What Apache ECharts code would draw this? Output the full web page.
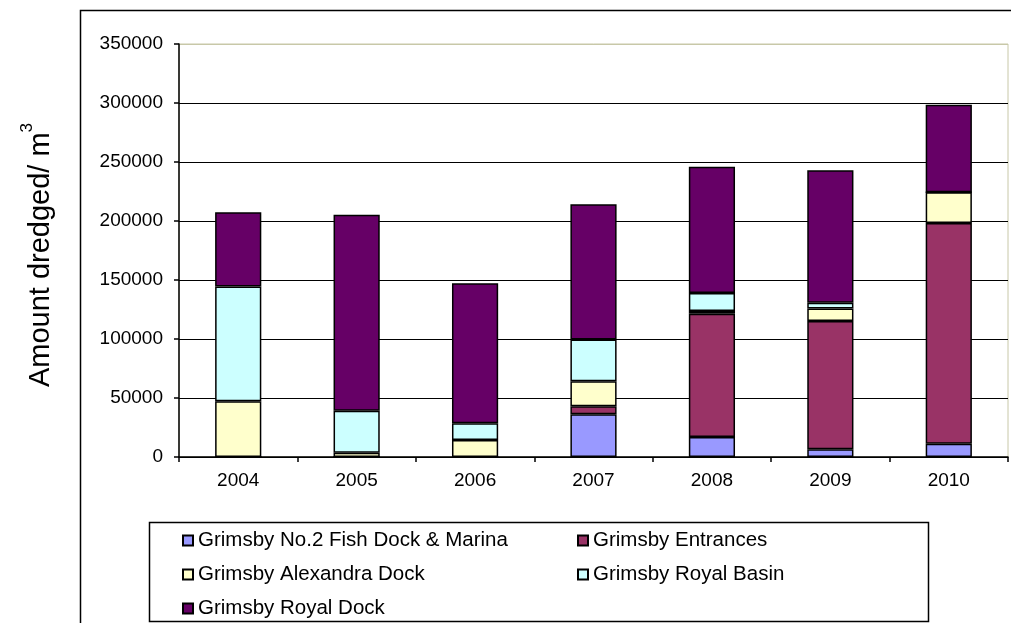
<!DOCTYPE html>
<html>
<head>
<meta charset="utf-8">
<script src="https://cdn.jsdelivr.net/npm/echarts@6/dist/echarts.min.js"></script>
<style>
  html, body { margin: 0; padding: 0; background: #fff; }
  #chart { width: 1011px; height: 623px; }
</style>
</head>
<body>
<div id="chart"></div>
<script>
// Annual dredging volumes at Grimsby, stacked by dock area (m³)
const years = ['2004', '2005', '2006', '2007', '2008', '2009', '2010'];
const fishDock   = [0, 0, 0, 36200, 17000, 6500, 11300];
const entrances  = [0, 0, 0, 6800, 104500, 108800, 187100];
const alexandra  = [47200, 3700, 14400, 21100, 2300, 10500, 26000];
const royalBasin = [97200, 35600, 14100, 35400, 15200, 5000, 0];
const royalDock  = [63000, 165900, 118700, 114700, 106900, 112200, 74100];
const yTicks = { min: 0, max: 350000, step: 50000 };

const seriesDefs = [
  { name: 'Grimsby No.2 Fish Dock & Marina', data: fishDock,   color: '#9999FF' },
  { name: 'Grimsby Entrances',               data: entrances,  color: '#993366' },
  { name: 'Grimsby Alexandra Dock',          data: alexandra,  color: '#FFFFCC' },
  { name: 'Grimsby Royal Basin',             data: royalBasin, color: '#CCFFFF' },
  { name: 'Grimsby Royal Dock',              data: royalDock,  color: '#660066' }
];

const FONT = '"Liberation Sans", Arial, sans-serif';
const chart = echarts.init(document.getElementById('chart'), null, { renderer: 'canvas' });

// gridlines are black; the top one is the light plot-area border
const splitColors = [];
for (let v = yTicks.min; v <= yTicks.max; v += yTicks.step) splitColors.push('#000000');
splitColors[splitColors.length - 1] = '#c8c8a8';

const legendText = { color: '#000', fontFamily: FONT, fontSize: 20.5, lineHeight: 20 };
const legendCommon = {
  orient: 'vertical',
  icon: 'rect',
  itemWidth: 10,
  itemHeight: 10,
  itemGap: 13,
  padding: 0,
  selectedMode: false,
  textStyle: legendText
};

chart.setOption({
  backgroundColor: '#ffffff',
  animation: false,
  grid: {
    left: 179, right: 3, top: 44, bottom: 166,
    show: true, borderColor: '#c8c8a8', borderWidth: 1, backgroundColor: 'transparent'
  },
  xAxis: {
    type: 'category',
    data: years,
    boundaryGap: true,
    axisLine: { lineStyle: { color: '#000', width: 1.5 } },
    axisTick: { show: true, alignWithLabel: false, length: 5, inside: false, lineStyle: { color: '#000', width: 1.5 } },
    axisLabel: { color: '#000', fontFamily: FONT, fontSize: 19, margin: 14 },
    splitLine: { show: false }
  },
  yAxis: {
    type: 'value',
    min: yTicks.min,
    max: yTicks.max,
    interval: yTicks.step,
    axisLine: { show: true, lineStyle: { color: '#000', width: 1.5 } },
    axisTick: { show: true, length: 5, lineStyle: { color: '#000', width: 1.5 } },
    axisLabel: { color: '#000', fontFamily: FONT, fontSize: 19, margin: 16, formatter: v => String(v) },
    splitLine: { show: true, lineStyle: { color: splitColors, width: 1.2 } }
  },
  legend: [
    Object.assign({}, legendCommon, {
      left: 182, top: 530,
      data: [seriesDefs[0].name, seriesDefs[2].name, seriesDefs[4].name]
    }),
    Object.assign({}, legendCommon, {
      left: 577, top: 530,
      data: [seriesDefs[1].name, seriesDefs[3].name]
    })
  ],
  graphic: [
    {
      type: 'rect', silent: true, z: -1,
      shape: { x: 80.5, y: 10.5, width: 1000, height: 700 },
      style: { fill: 'none', stroke: '#000', lineWidth: 1.5 }
    },
    {
      type: 'rect', silent: true, z: -1,
      shape: { x: 149.5, y: 522.5, width: 779, height: 99 },
      style: { fill: 'none', stroke: '#000', lineWidth: 1.5 }
    },
    {
      type: 'text', silent: true,
      x: 37, y: 255,
      rotation: Math.PI / 2,
      style: {
        text: '{a|Amount dredged/ m}{s|3}',
        align: 'center',
        verticalAlign: 'middle',
        rich: {
          a: { fontFamily: FONT, fontSize: 29, color: '#000', lineHeight: 36, verticalAlign: 'bottom' },
          s: { fontFamily: FONT, fontSize: 17, color: '#000', lineHeight: 36, verticalAlign: 'top' }
        }
      }
    }
  ],
  series: seriesDefs.map(s => ({
    type: 'bar',
    name: s.name,
    stack: 'total',
    data: s.data,
    barWidth: '39%',
    itemStyle: { color: s.color, borderColor: '#000', borderWidth: 1.5 },
    emphasis: { disabled: true }
  }))
});
</script>
</body>
</html>
